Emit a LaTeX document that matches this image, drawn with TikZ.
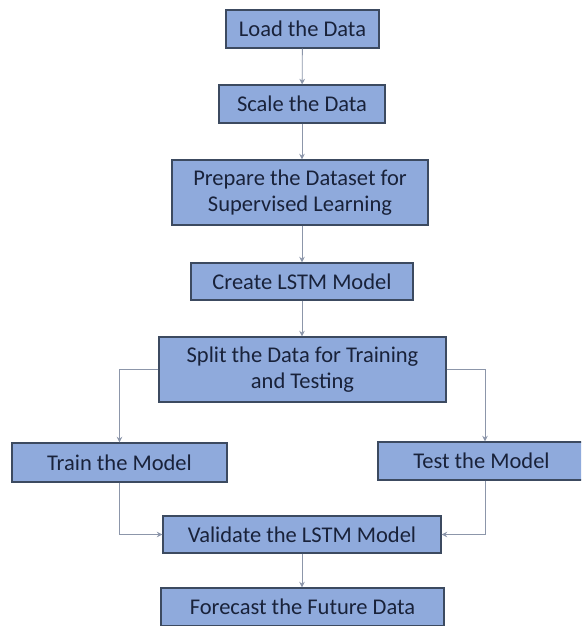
\documentclass[tikz,border=0pt]{standalone}
\usepackage{fontspec}
\setmainfont{Carlito}
\usetikzlibrary{arrows.meta,positioning}
\definecolor{boxfill}{RGB}{143,170,220}
\definecolor{boxline}{RGB}{60,74,96}
\definecolor{boxtext}{RGB}{25,34,58}
\definecolor{linkgray}{RGB}{140,150,170}
\tikzset{
	stepbox/.style={
		rectangle,
		draw=boxline,
		fill=boxfill,
		thick,
		text=boxtext,
		align=center,
		font=\fontsize{16}{19}\selectfont,
		inner sep=0pt
	}
}

\begin{document}
\begin{tikzpicture}[x=0.025cm,y=-0.025cm]
		\tikzstyle{connect}=[draw=linkgray, semithick, -{Stealth[length=4pt,width=4pt]}]
		\useasboundingbox (0,0) rectangle (581,626);
		\clip (0,0) rectangle (581,626);
		\node[stepbox, minimum width=3.825cm, minimum height=0.95cm]  (load)     at (302.5,29)  {Load the Data};
		\node[stepbox, minimum width=4.15cm,  minimum height=0.95cm]  (scale)    at (302,104)   {Scale the Data};
		\node[stepbox, minimum width=6.4cm,   minimum height=1.625cm] (prepare)  at (300,192.5) {Prepare the Dataset for\\Supervised Learning};
		\node[stepbox, minimum width=5.55cm,  minimum height=0.925cm] (create)   at (302,281.5) {Create LSTM Model};
		\node[stepbox, minimum width=7.175cm, minimum height=1.625cm] (split)    at (302.5,369.5) {Split the Data for Training\\and Testing};
		\node[stepbox, minimum width=5.375cm, minimum height=0.975cm] (train)    at (119.5,462.5) {Train the Model};
		\node[stepbox, minimum width=5.175cm, minimum height=0.95cm]  (test)     at (481.5,461) {Test the Model};
		\node[stepbox, minimum width=6.95cm,  minimum height=0.925cm] (validate) at (302,534.5) {Validate the LSTM Model};
		\node[stepbox, minimum width=7.075cm, minimum height=0.95cm]  (forecast) at (302.5,607) {Forecast the Future Data};
		
		\draw[connect] (load) -- (scale);
		\draw[connect] (scale) -- (prepare.north -| scale);
		\draw[connect] (prepare.south -| create) -- (create);
		\draw[connect] (create) -- (split.north -| create);
		\draw[connect] (split.west) -| (train.north);
		\draw[connect] (split.east) -| (485,0 |- test.north);
		\draw[connect] (train.south) |- (validate.west);
		\draw[connect] (485,0 |- test.south) |- (validate.east);
		\draw[connect] (validate) -- (forecast.north -| validate);
		
\end{tikzpicture}
\end{document}
